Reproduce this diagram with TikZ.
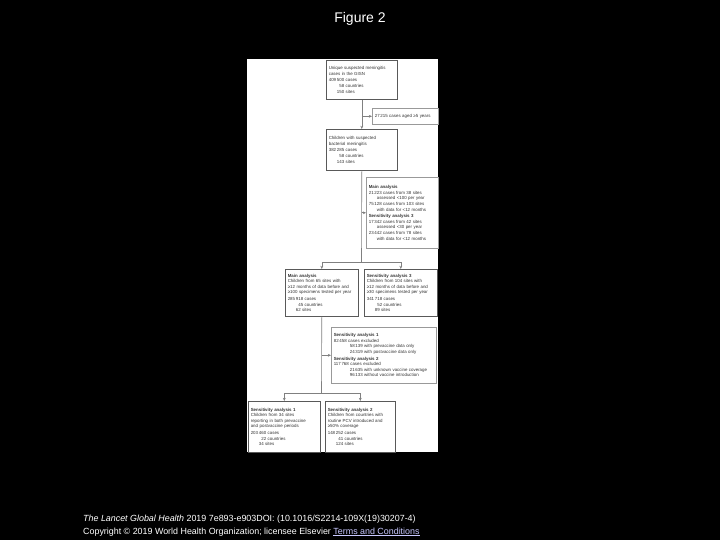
\documentclass[tikz,border=0pt]{standalone}
\usepackage{fontspec}
\setmainfont{Liberation Sans}
\usetikzlibrary{arrows.meta}

\definecolor{boxgray}{gray}{0.35}
\definecolor{exgray}{gray}{0.6}
\definecolor{linegray}{gray}{0.5}
\definecolor{textgray}{gray}{0.2}
\definecolor{linkblue}{RGB}{200,200,255}

\tikzset{
  flowbox/.style={draw=boxgray, line width=0.6pt, fill=white, anchor=north west,
    align=left, inner xsep=2.5pt, inner ysep=2pt, text=textgray,
    font=\fontsize{4.4}{5.6}\selectfont},
  exclbox/.style={flowbox, draw=exgray},
  conn/.style={draw=linegray, line width=0.6pt},
  arr/.style={conn, -{Stealth[length=3.2pt,width=2.8pt]}},
  caption/.style={text=white, inner sep=0pt}
}

\begin{document}
\begin{tikzpicture}[x=1pt, y=-1pt]

% page and figure panel
\useasboundingbox (0,0) rectangle (720,540);
\fill[black] (0,0) rectangle (720,540);
\fill[white] (247,59) rectangle (438,452);

% title
\node[caption, font=\fontsize{14}{16}\selectfont] (title) at (360,19) {Figure 2};

% all cases
\node[flowbox, text width=66pt, minimum height=39pt] (all) at (326,60)
  {Unique suspected meningitis\\cases in the GISN\\[1pt]
   409\,500 cases\\\phantom{409\,5}58 countries\\\phantom{409\,}150 sites};
\node[exclbox, text width=61pt, minimum height=16pt] (exage) at (372,108)
  {27\,215 cases aged ≥5 years};

% children
\node[flowbox, text width=66pt, minimum height=41pt] (kids) at (326,129)
  {Children with suspected\\bacterial meningitis\\[1pt]
   382\,285 cases\\\phantom{382\,2}58 countries\\\phantom{382\,}143 sites};

% site exclusions
\node[exclbox, text width=67pt, minimum height=71pt] (exsite) at (366,177)
  {\textbf{Main analysis}\\
   21\,223 cases from 38 sites\\\hspace*{8pt}assessed <100 per year\\
   75\,128 cases from 103 sites\\\hspace*{8pt}with data for <12 months\\[1pt]
   \textbf{Sensitivity analysis 3}\\
   17\,342 cases from 42 sites\\\hspace*{8pt}assessed <30 per year\\
   23\,442 cases from 78 sites\\\hspace*{8pt}with data for <12 months};

% main and sensitivity analysis
\node[flowbox, text width=68pt, minimum height=47pt] (main) at (285,269)
  {\textbf{Main analysis}\\
   Children from 65 sites with\\≥12 months of data before and\\≥100 specimens tested per year\\[1pt]
   285\,918 cases\\\phantom{285\,9}45 countries\\\phantom{285\,}62 sites};
\node[flowbox, text width=68pt, minimum height=47pt] (sens) at (364,269)
  {\textbf{Sensitivity analysis 3}\\
   Children from 104 sites with\\≥12 months of data before and\\≥30 specimens tested per year\\[1pt]
   341\,718 cases\\\phantom{341\,7}52 countries\\\phantom{341\,}89 sites};

% exclusions for sensitivity analyses 1 and 2
\node[exclbox, text width=100pt, minimum height=56pt] (exsens) at (331,327)
  {\textbf{Sensitivity analysis 1}\\
   82\,458 cases excluded\\
   \hspace*{16pt}58\,139 with prevaccine data only\\
   \hspace*{16pt}24\,319 with postvaccine data only\\[1pt]
   \textbf{Sensitivity analysis 2}\\
   117\,768 cases excluded\\
   \hspace*{16pt}21\,635 with unknown vaccine coverage\\
   \hspace*{16pt}96\,133 without vaccine introduction};

% sensitivity analyses 1 and 2
\node[flowbox, text width=67pt, minimum height=51pt] (sensa) at (248,401)
  {\textbf{Sensitivity analysis 1}\\
   Children from 34 sites\\reporting in both prevaccine\\and postvaccine periods\\[1pt]
   203\,460 cases\\\phantom{203\,4}22 countries\\\phantom{203\,}34 sites};
\node[flowbox, text width=65pt, minimum height=51pt] (sensb) at (325,401)
  {\textbf{Sensitivity analysis 2}\\
   Children from countries with\\routine PCV introduced and\\≥50\% coverage\\[1pt]
   148\,252 cases\\\phantom{148\,2}41 countries\\\phantom{148\,}124 sites};

% connectors
\coordinate (split) at (361.5,262);
\coordinate (splitb) at (321.5,393);
\draw[arr] (all.south) -- (kids.north);
\draw[arr] (all.south |- exage.west) -- (exage.west);
\draw[conn] (kids.south) -- (split);
\draw[arr] (kids.south |- exsite.west) -- (exsite.west);
\draw[conn] (main.north |- split) -- (sens.north |- split);
\draw[arr] (main.north |- split) -- (main.north);
\draw[arr] (sens.north |- split) -- (sens.north);
\draw[conn] (main.south) -- (splitb);
\draw[arr] (main.south |- exsens.west) -- (exsens.west);
\draw[conn] (sensa.north |- splitb) -- (sensb.north |- splitb);
\draw[arr] (sensa.north |- splitb) -- (sensa.north);
\draw[arr] (sensb.north |- splitb) -- (sensb.north);

% source line
\node[caption, anchor=west, font=\fontsize{8.9}{10}\selectfont] (src) at (83,519)
  {\textit{The Lancet Global Health} 2019 7e893-e903DOI: (10.1016/S2214-109X(19)30207-4)};
\node[caption, anchor=west, font=\fontsize{8.9}{10}\selectfont] (copy) at (83,532)
  {Copyright © 2019 World Health Organization; licensee Elsevier \textcolor{linkblue}{\underline{Terms and Conditions}}};

\end{tikzpicture}
\end{document}
